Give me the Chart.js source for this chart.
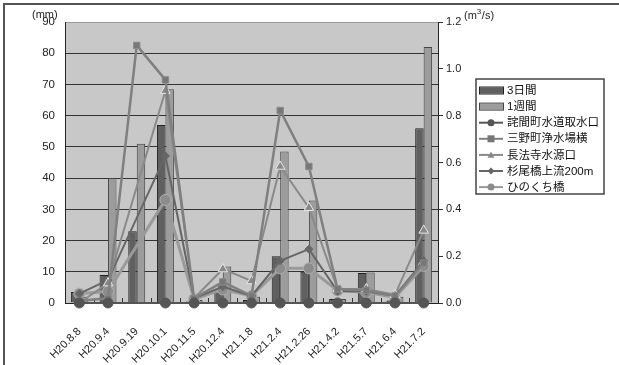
<!DOCTYPE html>
<html>
<head>
<meta charset="utf-8">
<script src="https://cdn.jsdelivr.net/npm/chart.js@4"></script>
<style>
    body { margin: 0; background: #fff; }
    canvas { display: block; }
</style>
</head>
<body>
<canvas id="water_chart_canvas" width="619" height="365"></canvas>
<script>
    var categories = ['H20.8.8', 'H20.9.4', 'H20.9.19', 'H20.10.1', 'H20.11.5', 'H20.12.4', 'H21.1.8',
        'H21.2.4', 'H21.2.26', 'H21.4.2', 'H21.5.7', 'H21.6.4', 'H21.7.2'];

    // rainfall (mm), left axis
    var rain3days = [3.5, 9, 23, 57, 0.5, 4, 1, 15, 10, 1.3, 9.6, 0.8, 56];
    var rain1week = [2, 40, 51, 68.5, 1, 11.7, 2, 48.5, 32.8, 1.3, 9.8, 2, 82];

    // flow (m3/s), right axis
    var takumaIntake = [0, 0, null, 0, 0, 0, 0, 0, 0, 0, 0, 0, 0];
    var minoPlant = [0.01, 0.02, 1.10, 0.953, 0.02, 0.09, 0.03, 0.822, 0.583, 0.06, 0.055, 0.03, 0.17];
    var chohojiSource = [0, 0.085, null, 0.907, 0.02, 0.145, 0.094, 0.583, 0.407, 0.06, 0.06, 0.035, 0.31];
    var sugiobashi = [0.04, 0.098, null, 0.628, 0.02, 0.07, 0.03, 0.18, 0.23, 0.05, 0.05, 0.03, 0.18];
    var hinokuchi = [0.04, 0.05, null, 0.44, 0.017, 0.058, 0.03, 0.148, 0.148, 0.053, 0.046, 0.024, 0.158];

    var leftTicks = [0, 10, 20, 30, 40, 50, 60, 70, 80, 90];
    var rightTicks = [0, 0.2, 0.4, 0.6, 0.8, 1.0, 1.2];

    var FONT = "'Liberation Sans', 'Noto Sans CJK JP', sans-serif";

    function lineSet(label, data, color, width, style, radius, fill, border) {
        return {
            type: 'line',
            label: label,
            data: data,
            yAxisID: 'y1',
            borderColor: color,
            borderWidth: width,
            pointStyle: style,
            pointRadius: radius,
            pointBackgroundColor: fill,
            pointBorderColor: border,
            pointBorderWidth: 1,
            spanGaps: true,
            tension: 0,
            clip: false,
            order: 1
        };
    }

    // plot background, frame, unit labels, inner x ticks
    var decorPlugin = {
        id: 'decor',
        beforeDatasetsDraw: function (chart) {
            var ctx = chart.ctx;
            var a = chart.chartArea;
            var x = chart.scales.x;
            ctx.save();
            ctx.strokeStyle = '#333';
            ctx.lineWidth = 1;
            for (var i = 1; i < categories.length; i++) {
                var px = Math.round((x.getPixelForValue(i - 1) + x.getPixelForValue(i)) / 2) + 0.5;
                ctx.beginPath();
                ctx.moveTo(px, a.bottom);
                ctx.lineTo(px, a.bottom - 5);
                ctx.stroke();
            }
            ctx.restore();
        },
        beforeDraw: function (chart) {
            var ctx = chart.ctx;
            var a = chart.chartArea;
            ctx.save();
            ctx.fillStyle = '#c8c8c8';
            ctx.fillRect(a.left, a.top, a.right - a.left, a.bottom - a.top);
            ctx.restore();
        },
        afterDraw: function (chart) {
            var ctx = chart.ctx;
            ctx.save();
            ctx.strokeStyle = '#555';
            ctx.lineWidth = 2;
            ctx.beginPath();
            ctx.moveTo(4, 365);
            ctx.lineTo(4, 4);
            ctx.lineTo(619, 4);
            ctx.stroke();

            // units
            ctx.fillStyle = '#222';
            ctx.font = '11px ' + FONT;
            ctx.textBaseline = 'alphabetic';
            ctx.fillText('(mm)', 32, 18);
            ctx.fillText('(m', 464, 19);
            var w = ctx.measureText('(m').width;
            ctx.font = '8px ' + FONT;
            ctx.fillText('3', 464 + w, 14);
            ctx.font = '11px ' + FONT;
            ctx.fillText('/s)', 464 + w + 5, 19);

            // legend
            var lx = 476, ly = 79, lw = 128, lh = 115;
            ctx.fillStyle = '#fff';
            ctx.fillRect(lx, ly, lw, lh);
            ctx.strokeStyle = '#444';
            ctx.lineWidth = 1.5;
            ctx.strokeRect(lx, ly, lw, lh);

            ctx.font = '11.5px ' + FONT;
            ctx.textBaseline = 'middle';
            chart.data.datasets.forEach(function (ds, i) {
                var cy = 90.5 + i * 16.1;
                if (ds.type === 'bar') {
                    ctx.fillStyle = ds.backgroundColor;
                    ctx.fillRect(479, cy - 3, 24, 6);
                    ctx.strokeStyle = ds.borderColor;
                    ctx.lineWidth = 1;
                    ctx.strokeRect(479.5, cy - 3.5, 24, 7);
                } else {
                    ctx.strokeStyle = ds.borderColor;
                    ctx.lineWidth = 2;
                    ctx.beginPath();
                    ctx.moveTo(479, cy);
                    ctx.lineTo(503, cy);
                    ctx.stroke();
                    drawMarker(ctx, ds.pointStyle, 491, cy, 3.5, ds.pointBackgroundColor);
                }
                ctx.fillStyle = '#111';
                ctx.fillText(ds.label, 507, cy + 0.5);
            });
            ctx.restore();
        }
    };

    function drawMarker(ctx, style, x, y, r, color) {
        ctx.fillStyle = color;
        ctx.beginPath();
        if (style === 'circle') {
            ctx.arc(x, y, r, 0, Math.PI * 2);
        } else if (style === 'rect') {
            ctx.rect(x - r, y - r, r * 2, r * 2);
        } else if (style === 'triangle') {
            ctx.moveTo(x, y - r);
            ctx.lineTo(x + r, y + r * 0.8);
            ctx.lineTo(x - r, y + r * 0.8);
            ctx.closePath();
        } else {
            ctx.moveTo(x, y - r);
            ctx.lineTo(x + r, y);
            ctx.lineTo(x, y + r);
            ctx.lineTo(x - r, y);
            ctx.closePath();
        }
        ctx.fill();
    }

    var ctx = document.getElementById('water_chart_canvas');
    var myChart = new Chart(ctx, {
        data: {
            labels: categories,
            datasets: [{
                type: 'bar',
                label: '3日間',
                data: rain3days,
                yAxisID: 'y',
                backgroundColor: '#606060',
                borderColor: '#222',
                borderWidth: 1,
                order: 10
            }, {
                type: 'bar',
                label: '1週間',
                data: rain1week,
                yAxisID: 'y',
                backgroundColor: '#9c9c9c',
                borderColor: '#444',
                borderWidth: 1,
                order: 10
            },
                lineSet('詫間町水道取水口', takumaIntake, '#555', 2, 'circle', 5, '#555', '#555'),
                lineSet('三野町浄水場横', minoPlant, '#808080', 2.5, 'rect', 4.5, '#777', '#8a8a8a'),
                lineSet('長法寺水源口', chohojiSource, '#8a8a8a', 2, 'triangle', 5.5, '#888', '#e8e8e8'),
                lineSet('杉尾橋上流200m', sugiobashi, '#666', 2, 'rectRot', 4, '#666', '#666'),
                lineSet('ひのくち橋', hinokuchi, '#9a9a9a', 3, 'circle', 5.5, '#8c8c8c', '#b0b0b0')
            ]
        },
        options: {
            responsive: false,
            animation: false,
            layout: { padding: { top: 22, left: 0, right: 0, bottom: 0 } },
            datasets: {
                bar: { categoryPercentage: 0.59, barPercentage: 1.0 }
            },
            plugins: {
                legend: { display: false },
                tooltip: { enabled: false }
            },
            scales: {
                x: {
                    offset: true,
                    grid: { display: false },
                    border: { display: true, color: '#222', width: 1 },
                    ticks: {
                        color: '#222',
                        font: { family: FONT, size: 11 },
                        minRotation: 45,
                        maxRotation: 45,
                        padding: 14
                    },
                    afterFit: function (scale) { scale.height = 62; }
                },
                y: {
                    position: 'left',
                    min: 0,
                    max: 90,
                    afterBuildTicks: function (scale) {
                        scale.ticks = leftTicks.map(function (v) { return { value: v }; });
                    },
                    grid: {
                        color: function (c) { return c.tick && c.tick.value === 90 ? '#9a9a9a' : '#333'; },
                        drawTicks: false
                    },
                    border: { display: true, color: '#222', width: 1 },
                    ticks: {
                        color: '#222',
                        font: { family: FONT, size: 11.5 },
                        padding: 10
                    },
                    afterFit: function (scale) { scale.width = 65; }
                },
                y1: {
                    position: 'right',
                    min: 0,
                    max: 1.2,
                    afterBuildTicks: function (scale) {
                        scale.ticks = rightTicks.map(function (v) { return { value: v }; });
                    },
                    grid: {
                        drawOnChartArea: false,
                        drawTicks: true,
                        tickLength: 5,
                        color: '#333'
                    },
                    border: { display: true, color: '#222', width: 1 },
                    ticks: {
                        color: '#222',
                        font: { family: FONT, size: 11 },
                        padding: 3,
                        callback: function (v) { return Number(v).toFixed(1); }
                    },
                    afterFit: function (scale) { scale.width = 181; }
                }
            }
        },
        plugins: [decorPlugin]
    });
</script>
</body>
</html>
